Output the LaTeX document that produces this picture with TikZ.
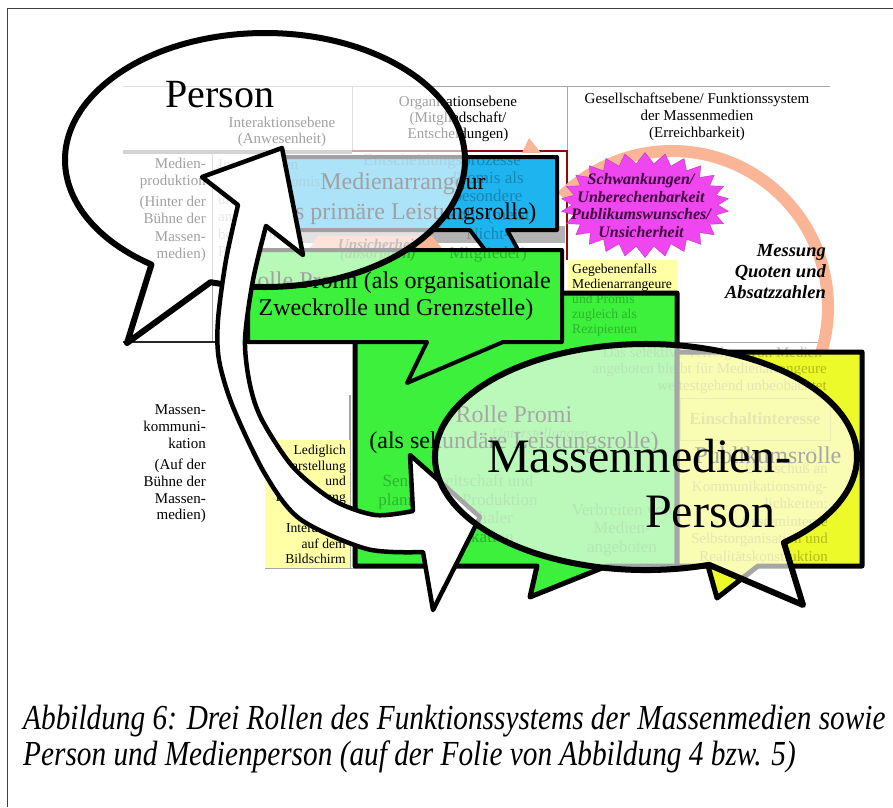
\documentclass[tikz,border=0pt]{standalone}
\usepackage{fontspec}
\setmainfont{Liberation Serif}
\usepackage{graphicx}
\usetikzlibrary{shapes.symbols}
\definecolor{promigreen}{RGB}{60,240,60}
\definecolor{arrangblue}{RGB}{30,180,240}
\definecolor{publikyellow}{RGB}{235,250,40}
\definecolor{paleyellow}{RGB}{255,255,165}
\definecolor{burstpink}{RGB}{240,70,240}
\definecolor{ringsalmon}{RGB}{250,180,150}
\definecolor{cellred}{RGB}{140,10,10}
\definecolor{burstink}{RGB}{60,0,60}
\newcommand{\fsz}[2]{\fontsize{#1}{#2}\selectfont}
\tikzset{
  bubble/.style={draw=black, line width=6pt, line join=round, fill=white, fill opacity=0.63},
  whitearrow/.style={draw=black, line width=4.5pt, line join=round, fill=white},
  rolebox/.style={draw=black, line width=4pt, line join=round},
  rolelabel/.style={font=\fsz{24}{27}, inner sep=0pt, align=center},
  gridline/.style={draw=black!35, line width=1pt},
  cell/.style={font=\fsz{15}{17}, inner sep=0pt},
  ghost/.style={text=black, text opacity=0.25, inner sep=0pt}
}
\begin{document}
\begin{tikzpicture}[x=1pt,y=-1pt]
\useasboundingbox (0,0) rectangle (893,807);
% frame
\draw[black!75, line width=1pt] (7,807) -- (7,8) -- (893,8);

% table of the slide
\draw[gridline] (123,86) -- (830,86);
\draw[gridline] (352,86) -- (352,152);
\draw[gridline] (567,86) -- (567,152);
\draw[gridline] (212,152) -- (212,342);
\draw[gridline] (567,342) -- (830,342);
\draw[gridline, line width=2.5pt] (350,395) -- (350,568);
\draw[gridline] (265,568) -- (355,568);
\draw[black!45, line width=3.5pt] (123,152) -- (352,152);
\draw[black!85, line width=1.5pt] (123,342) -- (355,342);
\draw[cellred, line width=2.5pt] (352,151) -- (567,151) -- (567,260);

\node[cell, align=center, font=\fsz{15}{16}] (hinter) at (282,131.5) {Interaktionsebene\\(Anwesenheit)};
\node[cell, align=center, font=\fsz{15}{16}] (horga) at (458,119) {Organisationsebene\\(Mitgliedschaft/\\Entscheidungen)};
\node[cell, align=center] (hgesell) at (697,116.5) {Gesellschaftsebene/ Funktionssystem\\der Massenmedien\\(Erreichbarkeit)};
\node[cell, align=right, anchor=east, font=\fsz{15}{17.5}] (rprod) at (206,209.7) {Medien-\\produktion\\[3pt](Hinter der\\Bühne der\\Massen-\\medien)};
\node[cell, align=right, anchor=east, font=\fsz{15}{16.7}] (rkomm) at (206,464) {Massen-\\kommuni-\\kation\\[5pt](Auf der\\Bühne der\\Massen-\\medien)};

\fill[paleyellow] (568,260) rectangle (677,345);
\fill[paleyellow] (265,440) rectangle (350,568);
\node[cell, align=left, anchor=west, font=\fsz{13.6}{15}] (gegeben) at (572,277.5) {Gegebenenfalls\\Medienarrangeure};
\node[cell, align=right, anchor=east, font=\fsz{13.6}{15.6}] (lediglich) at (346,504.5) {Lediglich\\Darstellung\\und\\Inszenierung\\von\\Interaktion\\auf dem\\Bildschirm};

% ring of measuring
\draw[ringsalmon, line width=12pt] (672,307) ++(225:156) arc[start angle=225, end angle=396, radius=156];
\fill[ringsalmon] (522,153) -- (529,138) -- (541,153) -- cycle;

% Medienarrangeur
\fill[black!30] (300,226) rectangle (565,243);
\path[rolebox, fill=arrangblue] (283,157) -- (557,157) -- (557,230) -- (507,230) -- (618,428) -- (470,230) -- (283,230) -- cycle;
\node[rolelabel, font=\fsz{24}{30}] (arrang) at (403,199) {Medienarrangeur\\(als primäre Leistungsrolle)};
\fill[ringsalmon] (308,251) -- (318,236) -- (432,236) -- (444,251) -- cycle;
\node[anchor=base, inner sep=0pt, font=\fsz{15}{17}\bfseries\itshape, text=black!65] (unsich) at (378,249) {Unsicherheit};

% Promi boxes
\path[rolebox, line width=5pt, fill=promigreen] (355,293) -- (677,293) -- (677,566) -- (607,566) -- (530,597) -- (537,566) -- (355,566) -- cycle;
\node[rolelabel, font=\fsz{24}{26}] (sekundaer) at (514,429.5) {Rolle Promi\\(als sekundäre Leistungsrolle)};
\path[rolebox, fill=promigreen] (248,250) -- (562,250) -- (562,342) -- (503,342) -- (407,383) -- (427,342) -- (248,342) -- cycle;
\node[rolelabel] (organisat) at (396,296) {Rolle Promi (als organisationale\\Zweckrolle und Grenzstelle)};

% Publikumsrolle
\path[rolebox, line width=5pt, fill=publikyellow] (677,352) -- (862,352) -- (862,566) -- (758,566) -- (717,598) -- (708,566) -- (677,566) -- cycle;
\node[anchor=base, inner sep=0pt, font=\fsz{24}{27}] (publikum) at (768,463) {Publikumsrolle};

% uncertainty and measuring
\node[starburst, starburst points=26, starburst point height=11pt, random starburst=0, draw=burstpink!80!black, fill=burstpink, minimum width=168pt, minimum height=105pt, inner sep=0pt] (burst) at (645,205) {};
\node[align=center, inner sep=0pt, text=burstink, font=\fsz{16}{17.5}\bfseries\itshape] (bursttext) at (641,205.3) {Schwankungen/\\Unberechenbarkeit\\Publikumswunsches/\\Unsicherheit};
\node[align=right, anchor=east, inner sep=0pt, font=\fsz{18.5}{21}\bfseries\itshape] (messung) at (826,272) {Messung\\Quoten und\\Absatzzahlen};

% table texts shining through
\node[ghost, align=left, anchor=west, font=\fsz{15}{17.5}] (ginter) at (218,208) {Interaktionen\\zwischen Promis\\und\\anderen\\bezüglich\\Promis};
\node[ghost, anchor=base west, font=\fsz{17}{19}] (gentsch) at (363,165) {Entscheidungsprozesse};
\node[ghost, align=center, font=\fsz{17}{18.75}] (gpromis) at (488,216.5) {Promis als\\besondere\\Rolle (meist\\Nicht-\\Mitglieder)};
\node[ghost, anchor=base, font=\fsz{15}{17}\bfseries\itshape] (gabsorp) at (378,258) {(absorption)};
\node[ghost, align=left, anchor=west, font=\fsz{13.6}{15}] (gegebenzwei) at (572,315) {und Promis\\zugleich als\\Rezipienten};
\node[ghost, anchor=base, font=\fsz{15}{17}\itshape] (gunter) at (540,438) {Unterstellungen};
\node[ghost, align=center, font=\fsz{17}{18.5}] (gsende) at (458,508.5) {Sendebereitschaft und\\planmäßige Produktion\\massenmedialer\\Kommunikation};
\node[ghost, align=center, font=\fsz{17}{18.5}] (gverbr) at (622,529.5) {Verbreiten von\\Medien-\\angeboten};
\node[ghost, align=right, anchor=east, font=\fsz{15}{16.5}] (gselekt) at (827,370) {Das selektive Verfolgen von Medien-\\angeboten bleibt für Medienarrangeure\\weitestgehend unbeobachtet};
\draw[black, opacity=0.15] (680,398) rectangle (830,440);
\node[ghost, font=\fsz{17}{19}\bfseries] (geinsch) at (755,419) {Einschaltinteresse};
\node[ghost, align=right, anchor=east, font=\fsz{15}{17.5}] (gueber) at (828,511.5) {Überschuß an\\Kommunikationsmög-\\lichkeiten:\\Systeminterne\\Selbstorganisation und\\Realitätskonstruktion};

% Person bubble
\path[bubble] (265,160) ++(124.6:200 and 127) arc[start angle=124.6, end angle=465.8, x radius=200, y radius=127] -- (127,343) -- cycle;

% double arrow between the two bubbles
\path[whitearrow] (282,148) -- (303,255)
  -- plot[smooth] coordinates {(266,226) (253,280) (245,340) (250,385) (262,420) (293,467) (333,500) (375,515) (413,511)}
  -- (410,455) -- (480,517) -- (433,610)
  -- plot[smooth] coordinates {(423,552) (367,549) (300,519) (265,474) (233,407) (219,360) (218,320) (226,260) (238,205)}
  -- (202,177) -- cycle;

% Massenmedien-Person bubble
\path[bubble, fill opacity=0.65] (646,457) ++(72.6:211 and 113) arc[start angle=72.6, end angle=409.2, x radius=211, y radius=113] -- (803,605) -- cycle;

\node[anchor=base west, inner sep=0pt, font=\fsz{40}{48}] (person) at (165,107) {Person};
\node[anchor=base west, inner sep=0pt, font=\fsz{48}{56}] (mmtop) at (487,472) {Massenmedien-};
\node[anchor=base west, inner sep=0pt, font=\fsz{48}{56}] (mmbot) at (645,527) {Person};

% caption
\node[anchor=base west, inner sep=0pt, font=\fsz{29.3}{34}\itshape] (capone) at (23,729) {\scalebox{1}[1.2]{Abbildung 6: Drei Rollen des Funktionssystems der Massenmedien sowie}};
\node[anchor=base west, inner sep=0pt, font=\fsz{29.3}{34}\itshape] (captwo) at (23,765) {\scalebox{1}[1.2]{Person und Medienperson (auf der Folie von Abbildung 4 bzw. 5)}};
\end{tikzpicture}
\end{document}
